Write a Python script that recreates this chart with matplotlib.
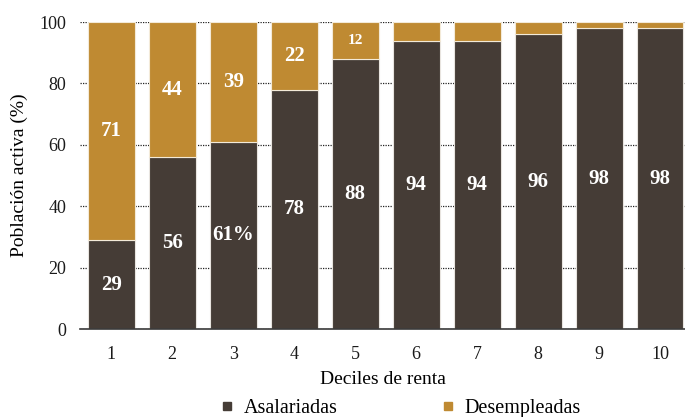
import matplotlib
matplotlib.use("Agg")
import matplotlib.pyplot as plt
from matplotlib.lines import Line2D

deciles = ["1", "2", "3", "4", "5", "6", "7", "8", "9", "10"]
asalariadas = [29, 56, 61, 78, 88, 94, 94, 96, 98, 98]
desempleadas = [71, 44, 39, 22, 12, 6, 6, 4, 2, 2]
label_asal = ["29", "56", "61%", "78", "88", "94", "94", "96", "98", "98"]
label_desemp = ["71", "44", "39", "22", "12", "", "", "", "", ""]

dark = "#453c36"
gold = "#bf8a32"

plt.rcParams["font.family"] = ["Liberation Serif", "DejaVu Serif"]

fig = plt.figure(figsize=(6.85, 4.17), dpi=100)
ax = fig.add_axes([0.117, 0.211, 0.883, 0.736])

x = list(range(1, len(deciles) + 1))
w = 0.77
ax.bar(x, asalariadas, width=w, color=dark, edgecolor="#e8e4df", linewidth=0.8, zorder=3)
ax.bar(x, desempleadas, width=w, bottom=asalariadas, color=gold, edgecolor="#f3ead8",
       linewidth=0.8, zorder=3)

for xi, a, d, la, ld in zip(x, asalariadas, desempleadas, label_asal, label_desemp):
    ax.text(xi, a / 2, la, ha="center", va="center", color="white",
            fontsize=15, fontweight="bold", zorder=4)
    if ld:
        ax.text(xi, a + d / 2, ld, ha="center", va="center", color="white",
                fontsize=15 if d > 15 else 11, fontweight="bold", zorder=4)

ax.set_xlim(0.49, 10.41)
ax.set_ylim(0, 100)
ax.set_yticks(range(0, 101, 20))
ax.set_xticks(x)
ax.set_xticklabels(deciles)
ax.tick_params(axis="both", length=0, labelsize=13, colors="#1a1a1a")
ax.tick_params(axis="x", pad=12)
ax.tick_params(axis="y", pad=10)

ax.yaxis.grid(True, linestyle=(0, (1, 1)), color="#222222", linewidth=0.9, zorder=0)
for side in ["top", "right", "left"]:
    ax.spines[side].set_visible(False)
ax.spines["bottom"].set_color("#3a3a3a")
ax.spines["bottom"].set_linewidth(1.2)
ax.spines["bottom"].set_zorder(5)

ax.set_ylabel("Población activa (%)", fontsize=14, labelpad=8)
ax.set_xlabel("Deciles de renta", fontsize=14, labelpad=6)

handles = [
    Line2D([], [], marker="s", linestyle="none", color=dark, markersize=6),
    Line2D([], [], marker="s", linestyle="none", color=gold, markersize=6),
]
fig.legend(handles, ["Asalariadas", "Desempleadas"], loc="lower center",
           bbox_to_anchor=(0.585, -0.045), ncol=2, frameon=False, fontsize=14.5,
           handlelength=0.6, handletextpad=0.5, columnspacing=5.2)

fig.savefig("out.png", dpi=100)
